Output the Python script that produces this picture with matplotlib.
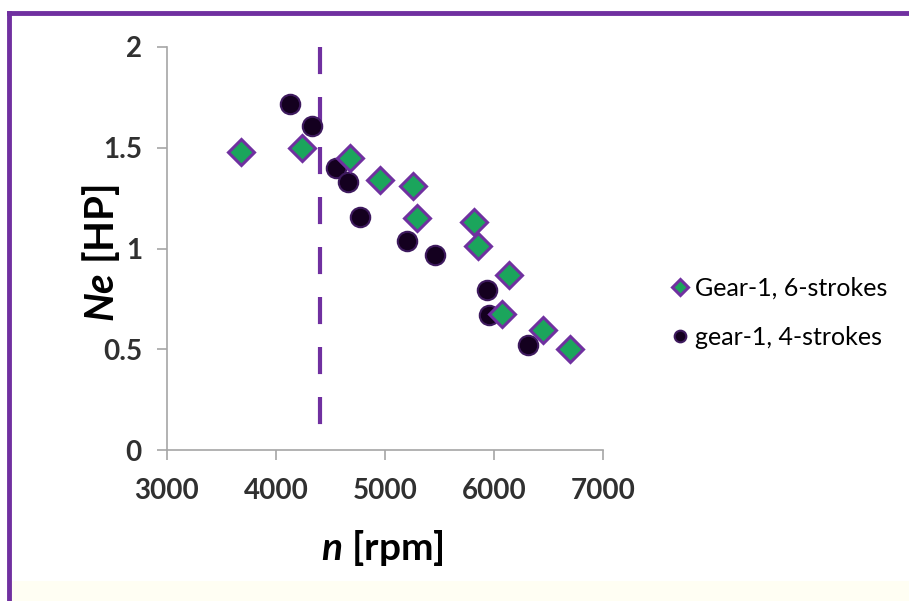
import matplotlib.pyplot as plt
from matplotlib.lines import Line2D
import matplotlib.patches as patches

# Gear-1, 6 temps
rpm_6t = [3680, 4240, 4680, 4955, 5255, 5295, 5815, 5855, 6140, 6075, 6450, 6700]
ne_6t = [1.48, 1.50, 1.45, 1.34, 1.31, 1.15, 1.13, 1.01, 0.87, 0.675, 0.595, 0.50]

# gear-1, 4 temps
rpm_4t = [4130, 4330, 4550, 4665, 4770, 5200, 5460, 5935, 5950, 6310]
ne_4t = [1.715, 1.61, 1.40, 1.33, 1.155, 1.035, 0.97, 0.795, 0.67, 0.52]

rpm_limite = 4400

xticks = [3000, 4000, 5000, 6000, 7000]
yticks = [0, 0.5, 1, 1.5, 2]
ytick_labels = ["0", "0.5", "1", "1.5", "2"]

plt.rcParams['font.family'] = ['Lato', 'DejaVu Sans']
plt.rcParams['mathtext.fontset'] = 'custom'
plt.rcParams['mathtext.rm'] = 'Lato'
plt.rcParams['mathtext.it'] = 'Lato:italic'
plt.rcParams['mathtext.bf'] = 'Lato:bold'
plt.rcParams['mathtext.bfit'] = 'Lato:italic:bold'

violet = '#7030A0'
vert = '#1BA55C'
gris = '#A6A6A6'

fig = plt.figure(figsize=(9.09, 6.01), dpi=100)
ax = fig.add_axes([0.1837, 0.2512, 0.4797, 0.6706])

# ligne verticale tiretée, tracée du haut vers le bas
ax.plot([rpm_limite, rpm_limite], [2, 0.05], color=violet, lw=3,
        dashes=(6.5, 5.5), zorder=1)
ax.plot(rpm_6t, ne_6t, linestyle='none', marker='D', markersize=13,
        markerfacecolor=vert, markeredgecolor=violet, markeredgewidth=2.2,
        label="Gear-1, 6-strokes", zorder=3)
ax.plot(rpm_4t, ne_4t, linestyle='none', marker='o', markersize=14,
        markerfacecolor='#14001F', markeredgecolor='#3E1A5E', markeredgewidth=1.5,
        label="gear-1, 4-strokes", zorder=2)

ax.set_xlim(3000, 7000)
ax.set_ylim(0, 2)
ax.set_xticks(xticks)
ax.set_yticks(yticks)
ax.set_yticklabels(ytick_labels)
ax.tick_params(axis='both', direction='out', length=7, width=1.2, color=gris,
               labelsize=20, labelcolor='#303030')
ax.tick_params(axis='x', pad=13)
ax.tick_params(axis='y', pad=11)
for t in ax.get_xticklabels() + ax.get_yticklabels():
    t.set_fontweight('bold')
for s in ['top', 'right']:
    ax.spines[s].set_visible(False)
for s in ['left', 'bottom']:
    ax.spines[s].set_color(gris)
    ax.spines[s].set_linewidth(1.2)

ax.set_xlabel(r"$\mathbfit{n}$ [rpm]", fontsize=28, fontweight='bold', va='center')
ax.set_ylabel(r"$\mathbfit{Ne}$ [HP]", fontsize=29, fontweight='bold', va='center')
ax.xaxis.set_label_coords(0.495, -0.243)
ax.yaxis.set_label_coords(-0.151, 0.49)

fig.legend(loc='center left', bbox_to_anchor=(0.71, 0.48), frameon=False,
           handletextpad=0.1, labelspacing=1.05, markerscale=0.6,
           handlelength=1.0, prop={'weight': 'normal', 'size': 18})

# cadre violet (haut et gauche)
fig.add_artist(Line2D([9 / 909, 1.0], [1 - 13 / 601, 1 - 13 / 601],
                      transform=fig.transFigure, color=violet, lw=3.5))
fig.add_artist(Line2D([9 / 909, 9 / 909], [0, 1 - 13 / 601],
                      transform=fig.transFigure, color=violet, lw=3.5))
fig.add_artist(patches.Rectangle((11 / 909, 0), 1, 20 / 601, transform=fig.transFigure,
                                 facecolor='#FFFEF3', edgecolor='none', zorder=-1))

fig.savefig("out.png", dpi=100)
